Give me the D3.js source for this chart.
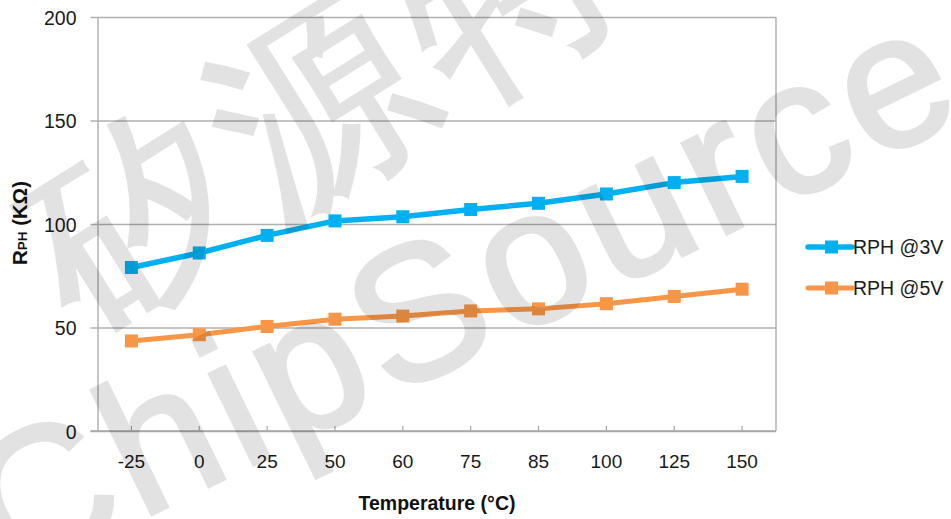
<!DOCTYPE html>
<html>
<head>
<meta charset="utf-8">
<script src="https://cdn.jsdelivr.net/npm/d3@7"></script>
<style>
  html, body { margin: 0; padding: 0; background: #fff; }
  svg { display: block; }
  text { font-family: "Liberation Sans", Arial, sans-serif; }
</style>
</head>
<body>
<svg id="chart" width="951" height="519"></svg>
<script>
// ---- data ----
const categories = ["-25", "0", "25", "50", "60", "75", "85", "100", "125", "150"];
const rph3V = [79, 86, 94.5, 101.5, 103.5, 107, 110, 114.5, 120, 123];
const rph5V = [43.5, 46.5, 50.5, 54, 55.5, 58, 59, 61.5, 65, 68.5];
const seriesNames = ["RPH @3V", "RPH @5V"];
const yTicks = [0, 50, 100, 150, 200];

// ---- layout ----
const plot = { left: 97.5, right: 776, top: 17, bottom: 431 };
const colors = ["#00b0f0", "#f79646"];
const lineWidths = [5.5, 5];

const svg = d3.select("#chart");

const x = d3.scaleBand().domain(categories).range([plot.left, plot.right]);
const y = d3.scaleLinear().domain([0, 200]).range([plot.bottom, plot.top]);
const cx = c => x(c) + x.bandwidth() / 2;

// gridlines + y axis labels
const yAxis = d3.axisLeft(y).tickValues(yTicks)
  .tickSizeInner(-(plot.right - plot.left))
  .tickSizeOuter(0).tickPadding(21);
const gy = svg.append("g").attr("transform", `translate(${plot.left},0)`).call(yAxis);
gy.select(".domain").attr("stroke", "#a6a6a6").attr("stroke-width", 1.3);
gy.selectAll(".tick line").attr("stroke", "#b0b0b0").attr("stroke-width", 1.3).attr("x1", -7);
gy.selectAll(".tick text").attr("font-size", 19.5).attr("fill", "#1a1a1a")
  .attr("font-family", "Liberation Sans, Arial, sans-serif").attr("dy", "0.36em");

// right border
svg.append("line")
  .attr("x1", plot.right).attr("x2", plot.right)
  .attr("y1", y(200)).attr("y2", y(0))
  .attr("stroke", "#a6a6a6").attr("stroke-width", 1.3);

// x axis
const xAxis = d3.axisBottom(x).tickSizeInner(-5).tickSizeOuter(0).tickPadding(24);
const gx = svg.append("g").attr("transform", `translate(0,${plot.bottom})`).call(xAxis);
gx.select(".domain").attr("stroke", "#a6a6a6").attr("stroke-width", 1.3)
  .attr("d", `M${plot.left - 7},0H${plot.right}`);
gx.selectAll(".tick line").attr("stroke", "#a6a6a6").attr("stroke-width", 1.2);
gx.selectAll(".tick text").attr("font-size", 19).attr("fill", "#1a1a1a")
  .attr("font-family", "Liberation Sans, Arial, sans-serif").attr("dy", "0.71em");

// series
const series = [rph3V, rph5V];
const line = d3.line().x((d, i) => cx(categories[i])).y(d => y(d));
series.forEach((vals, si) => {
  svg.append("path").datum(vals)
    .attr("d", line)
    .attr("fill", "none")
    .attr("stroke", colors[si])
    .attr("stroke-width", lineWidths[si])
    .attr("stroke-linejoin", "round");
  svg.append("g").selectAll("rect").data(vals).join("rect")
    .attr("x", (d, i) => cx(categories[i]) - 6.5)
    .attr("y", d => y(d) - 6.5)
    .attr("width", 13).attr("height", 13)
    .attr("fill", colors[si]);
});

// legend
const legendY = [247, 288];
seriesNames.forEach((name, si) => {
  const g = svg.append("g").attr("transform", `translate(0,${legendY[si]})`);
  g.append("line").attr("x1", 808).attr("x2", 852).attr("y1", 0).attr("y2", 0)
    .attr("stroke", colors[si]).attr("stroke-width", lineWidths[si]).attr("stroke-linecap", "round");
  g.append("rect").attr("x", 825).attr("y", -6.5).attr("width", 13).attr("height", 13).attr("fill", colors[si]);
  g.append("text").attr("x", 853).attr("y", 0).attr("dy", "0.36em")
    .attr("font-size", 19.5).attr("fill", "#1a1a1a").text(name);
});

// axis titles
svg.append("text")
  .attr("x", 437).attr("y", 510)
  .attr("text-anchor", "middle")
  .attr("font-size", 19.5).attr("font-weight", "bold").attr("fill", "#111")
  .text("Temperature (°C)");

const yt = svg.append("text")
  .attr("transform", "translate(27,223) rotate(-90)")
  .attr("text-anchor", "middle")
  .attr("font-weight", "bold").attr("fill", "#111").attr("font-size", 20.5);
yt.append("tspan").text("R");
yt.append("tspan").attr("font-size", 13.5).text("PH");
yt.append("tspan").text(" (KΩ)");

// watermark
const wm = svg.append("g").attr("pointer-events", "none").attr("opacity", 0.11);
wm.append("text")
  .attr("transform", "translate(325,102) rotate(-32)")
  .attr("text-anchor", "middle").attr("dominant-baseline", "central")
  .attr("font-family", "Noto Sans CJK SC, sans-serif")
  .attr("font-size", 210).attr("letter-spacing", 10)
  .attr("fill", "#000").attr("stroke", "#000").attr("stroke-width", 3)
  .text("矽源特");
wm.append("text")
  .attr("transform", "translate(42,492) rotate(-26)")
  .attr("x", -69).attr("y", 68)
  .attr("font-family", "Liberation Sans, Arial, sans-serif")
  .attr("font-size", 190).attr("letter-spacing", 8)
  .attr("fill", "#000").attr("stroke", "#000").attr("stroke-width", 4)
  .text("ChipSource");
</script>
</body>
</html>
